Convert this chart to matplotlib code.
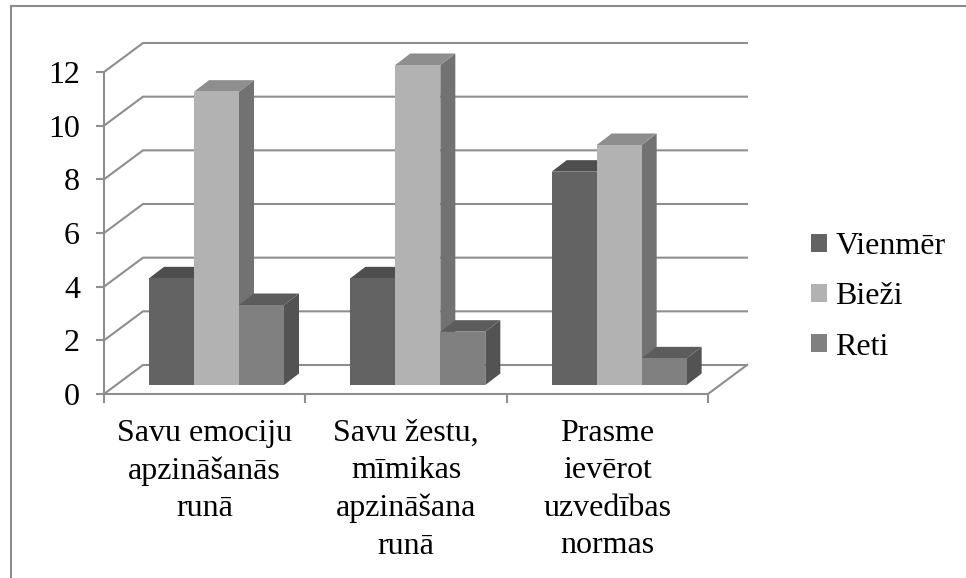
import matplotlib
matplotlib.use("Agg")
import matplotlib.pyplot as plt
from matplotlib.lines import Line2D

categories = ["Savu emociju\napzināšanās\nrunā",
              "Savu žestu,\nmīmikas\napzināšana\nrunā",
              "Prasme\nievērot\nuzvedības\nnormas"]
series_names = ["Vienmēr", "Bieži", "Reti"]
vienmer = [4, 4, 8]
biezi = [11, 12, 9]
reti = [3, 2, 1]
y_ticks = [0, 2, 4, 6, 8, 10, 12]

W, H = 966, 578
front_colors = ["#636363", "#b2b2b2", "#808080"]
top_colors = ["#4e4e4e", "#8e8e8e", "#5c5c5c"]
side_colors = ["#4c4c4c", "#727272", "#535353"]
grid_color = "#8e8e8e"
font_size = 23

plt.rcParams["font.family"] = ["Liberation Serif", "DejaVu Serif"]

# plot area in pixels, front wall
px_left, px_right, px_bottom, px_top = 104, 708, 394, 72
per_cat = (px_right - px_left) / 3
per_val = (px_bottom - px_top) / 12

fig = plt.figure(figsize=(W / 100, H / 100), dpi=100)
ax = fig.add_axes([px_left / W, 1 - px_bottom / H, (px_right - px_left) / W, (px_bottom - px_top) / H])
ax.set_xlim(0, 3)
ax.set_ylim(0, 12)

# depth of the fake 3d box
wall_dx = 39 / per_cat
wall_dy = 29 / per_val
bar_dx = 15 / per_cat
bar_dy = 11.5 / per_val
bar_base = 9 / per_val
bar_start = 45 / per_cat
bar_w = 45 / per_cat
bar_scale = 320 / 322

for t in y_ticks:
    ax.plot([0, wall_dx, 3 + wall_dx], [t, t + wall_dy, t + wall_dy], color=grid_color, lw=1.5,
            clip_on=False, zorder=1, solid_joinstyle="miter")
ax.plot([3, 3 + wall_dx], [0, wall_dy], color=grid_color, lw=1.5, clip_on=False, zorder=1)

z = 3
for i in range(3):
    for j, vals in enumerate([vienmer, biezi, reti]):
        x0 = i + bar_start + j * bar_w
        x1 = x0 + bar_w
        top = bar_base + vals[i] * bar_scale
        ax.fill([x1, x1 + bar_dx, x1 + bar_dx, x1],
                [bar_base, bar_base + bar_dy, top + bar_dy, top],
                color=side_colors[j], lw=0, clip_on=False, zorder=z)
        ax.fill([x0, x0 + bar_dx, x1 + bar_dx, x1],
                [top, top + bar_dy, top + bar_dy, top],
                color=top_colors[j], lw=0, clip_on=False, zorder=z)
        ax.bar(x0, vals[i] * bar_scale, bottom=bar_base, width=bar_w, align="edge",
               color=front_colors[j], lw=0, clip_on=False, zorder=z + 1,
               label=series_names[j] if i == 0 else None)
        z += 2

for s in ["top", "right"]:
    ax.spines[s].set_visible(False)
for s in ["left", "bottom"]:
    ax.spines[s].set_color(grid_color)
    ax.spines[s].set_linewidth(1.5)
    ax.spines[s].set_zorder(2)

ax.set_yticks(y_ticks)
ax.set_xticks([0, 1, 2, 3])
ax.set_xticklabels([])
ax.set_xticks([0.5, 1.5, 2.5], minor=True)
ax.set_xticklabels(categories, minor=True, fontsize=font_size, linespacing=1.38, color="black")
ax.tick_params(axis="y", length=5.8, width=1.5, color=grid_color, labelsize=font_size, pad=11.5, labelcolor="black")
ax.tick_params(axis="x", which="major", length=6.5, width=1.5, color=grid_color)
ax.tick_params(axis="x", which="minor", length=0, pad=18)

ax.legend(loc="center left", bbox_to_anchor=(811 / W, 1 - 297 / H), bbox_transform=fig.transFigure,
          frameon=False, fontsize=font_size, handlelength=0.5, handleheight=0.5, handletextpad=0.26,
          labelspacing=0.66, borderpad=0, borderaxespad=0)

# outer chart frame
fig.add_artist(Line2D([10.5 / W, 10.5 / W, 1], [0, 1 - 5.5 / H, 1 - 5.5 / H], color="#8c8c8c", lw=1.5,
                      solid_joinstyle="miter"))

fig.savefig("out.png", dpi=100)
